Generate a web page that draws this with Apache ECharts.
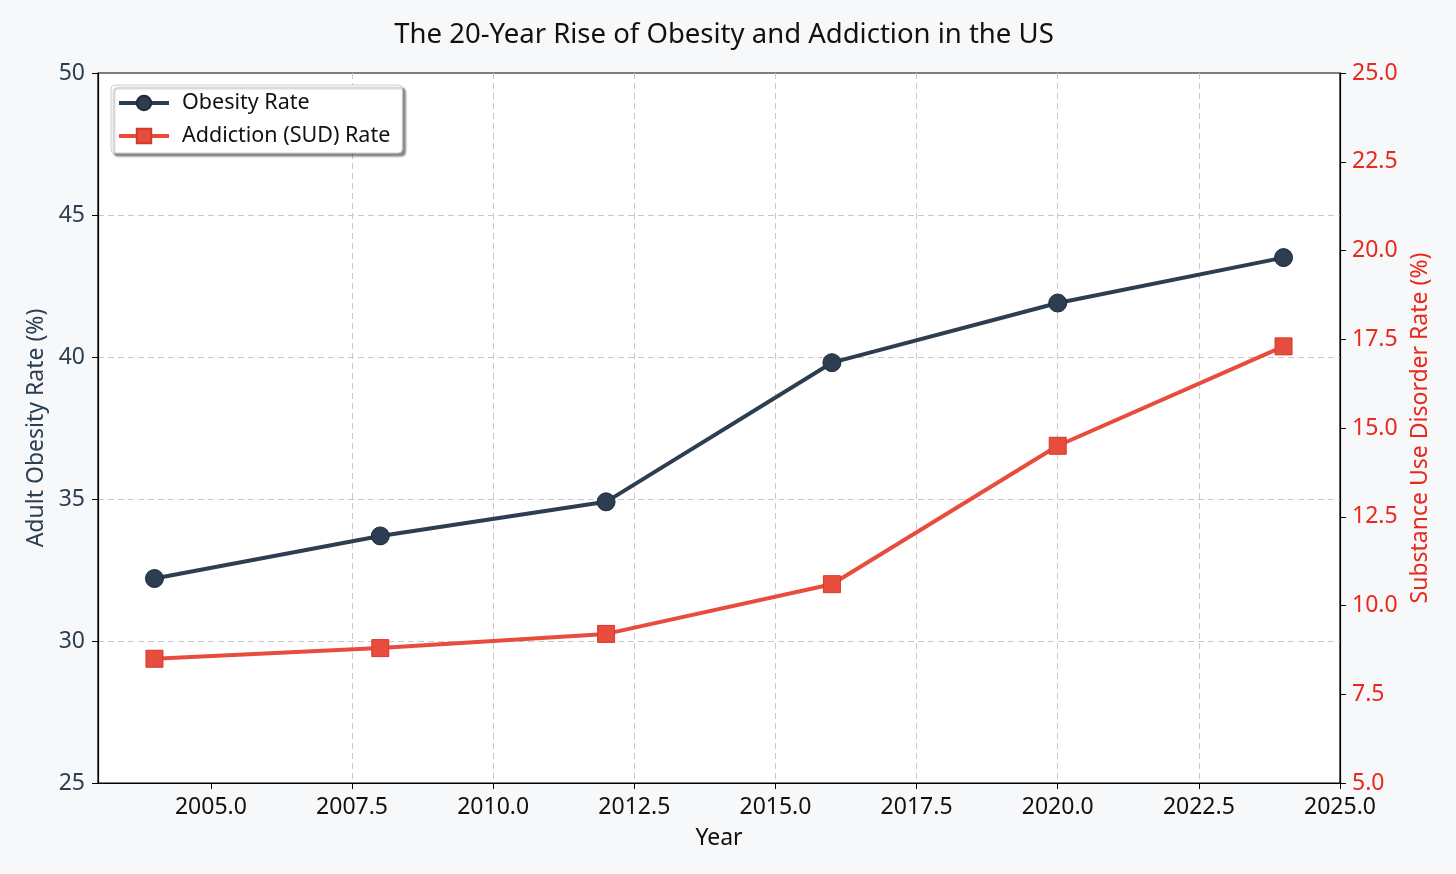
<!DOCTYPE html>
<html>
<head>
<meta charset="utf-8">
<script src="https://cdn.jsdelivr.net/npm/echarts@6/dist/echarts.min.js"></script>
<style>
html,body{margin:0;padding:0;background:#f7f8fa;}
#chart{width:1456px;height:874px;}
</style>
</head>
<body>
<div id="chart"></div>
<script>
const years = [2004, 2008, 2012, 2016, 2020, 2024];
const obesityRate = [32.2, 33.7, 34.9, 39.8, 41.9, 43.5];
const addictionRate = [8.5, 8.8, 9.2, 10.6, 14.5, 17.3];
const xTicks = [2005, 2007.5, 2010, 2012.5, 2015, 2017.5, 2020, 2022.5, 2025];

const FONT = '"Noto Sans", sans-serif';
const NAVY = '#2c3e50';
const RED = '#e74c3c';
const RED_TXT = '#e8291c';

const chart = echarts.init(document.getElementById('chart'));
chart.setOption({
  backgroundColor: '#f7f8fa',
  animation: false,
  title: {
    text: 'The 20-Year Rise of Obesity and Addiction in the US',
    left: 719, top: 16, textAlign: 'center',
    textStyle: {fontFamily: FONT, fontSize: 27.5, fontWeight: 'normal', color: '#111'}
  },
  legend: {
    left: 111, top: 85, orient: 'vertical',
    padding: [7, 12, 6, 6], itemGap: 11,
    itemWidth: 50, itemHeight: 18,
    backgroundColor: '#ffffff', borderColor: '#cfcfcf', borderWidth: 1, borderRadius: 4,
    shadowColor: 'rgba(0,0,0,0.45)', shadowBlur: 2, shadowOffsetX: 3, shadowOffsetY: 3,
    lineStyle: {width: 4},
    textStyle: {fontFamily: FONT, fontSize: 21.5, color: '#111', padding: [0, 0, 0, 8]},
    data: ['Obesity Rate', 'Addiction (SUD) Rate']
  },
  grid: {
    left: 98, right: 116, top: 73, bottom: 91,
    show: true, backgroundColor: '#ffffff', borderColor: '#000', borderWidth: 1.2
  },
  xAxis: {
    type: 'value', min: 2003, max: 2025,
    name: 'Year', nameLocation: 'middle', nameGap: 44,
    nameTextStyle: {fontFamily: FONT, fontSize: 23, color: '#111'},
    axisLine: {lineStyle: {color: '#000', width: 1.2}},
    axisTick: {show: true, length: 6, customValues: xTicks, lineStyle: {color: '#000'}},
    axisLabel: {customValues: xTicks, fontFamily: FONT, fontSize: 23, color: '#111', margin: 13,
      formatter: v => v.toFixed(1)},
    splitLine: {show: true, showMinLine: false, showMaxLine: false,
      lineStyle: {type: [6, 4], color: '#c8c8c8', width: 1}}
  },
  yAxis: [
    {
      type: 'value', min: 25, max: 50, interval: 5, position: 'left',
      name: 'Adult Obesity Rate (%)', nameLocation: 'middle', nameGap: 50,
      nameTextStyle: {fontFamily: FONT, fontSize: 23, color: NAVY},
      axisLine: {show: true, lineStyle: {color: '#000', width: 1.2}},
      axisTick: {show: true, length: 6, lineStyle: {color: '#000'}},
      axisLabel: {fontFamily: FONT, fontSize: 23, color: NAVY, margin: 13},
      splitLine: {show: true, showMinLine: false, showMaxLine: false,
        lineStyle: {type: [6, 4], color: '#c8c8c8', width: 1}}
    },
    {
      type: 'value', min: 5, max: 25, interval: 2.5, position: 'right',
      name: 'Substance Use Disorder Rate (%)', nameLocation: 'middle', nameGap: 68,
      nameRotate: 90,
      nameTextStyle: {fontFamily: FONT, fontSize: 23, color: RED_TXT},
      axisLine: {show: true, lineStyle: {color: '#000', width: 1.2}},
      axisTick: {show: true, length: 6, lineStyle: {color: '#000'}},
      axisLabel: {fontFamily: FONT, fontSize: 23, color: RED_TXT, margin: 12,
        formatter: v => v.toFixed(1)},
      splitLine: {show: false}
    }
  ],
  series: [
    {
      name: 'Obesity Rate', type: 'line', yAxisIndex: 0,
      data: years.map((y, i) => [y, obesityRate[i]]),
      symbol: 'circle', symbolSize: 18,
      lineStyle: {color: NAVY, width: 4},
      itemStyle: {color: NAVY, borderColor: '#1c2a38', borderWidth: 1}
    },
    {
      name: 'Addiction (SUD) Rate', type: 'line', yAxisIndex: 1,
      data: years.map((y, i) => [y, addictionRate[i]]),
      symbol: 'rect', symbolSize: 17,
      lineStyle: {color: RED, width: 4},
      itemStyle: {color: RED, borderColor: '#d43a2a', borderWidth: 1}
    }
  ]
});
</script>
</body>
</html>
